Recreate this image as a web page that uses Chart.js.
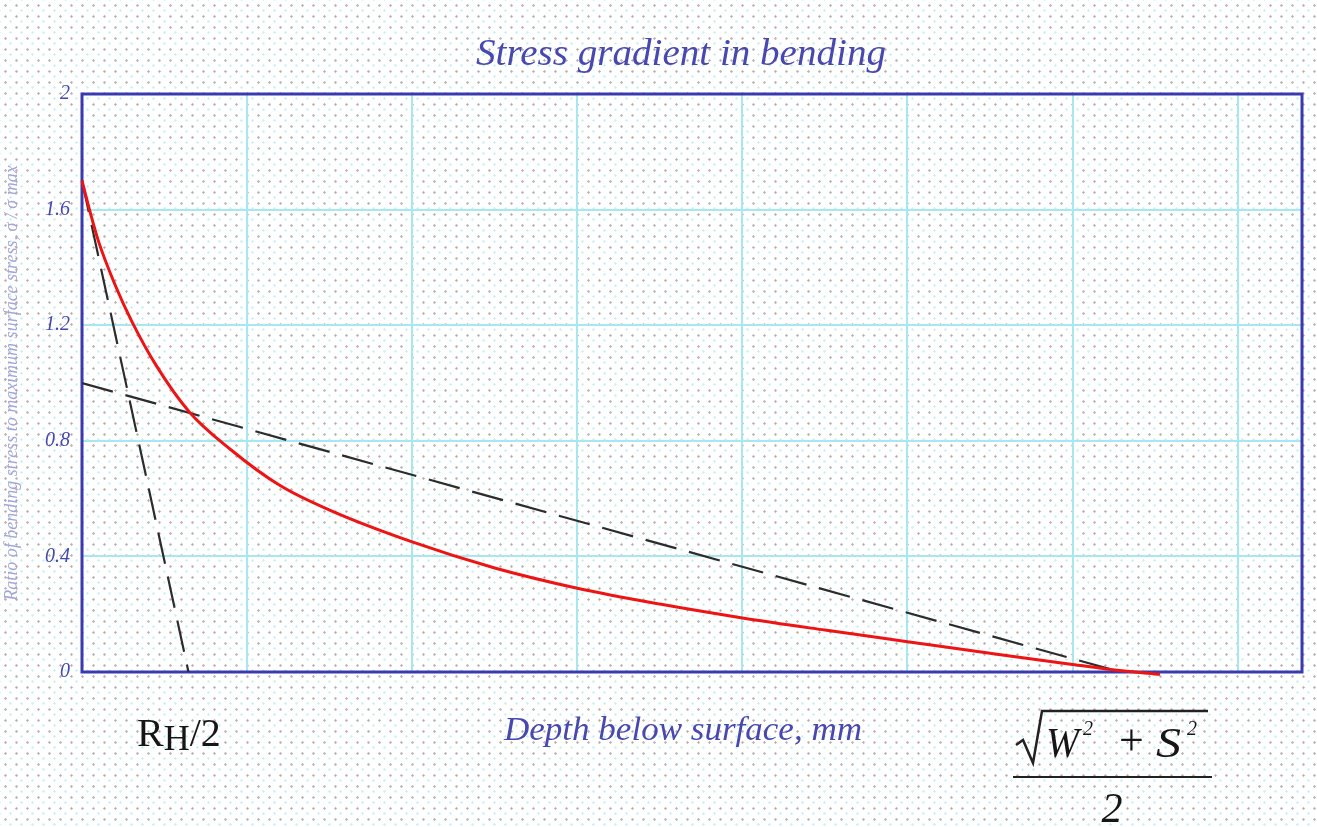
<!DOCTYPE html>
<html>
<head>
<meta charset="utf-8">
<title>Stress gradient in bending</title>
<script src="https://cdn.jsdelivr.net/npm/chart.js@4.4.1/dist/chart.umd.min.js"></script>
<style>
html, body { margin: 0; padding: 0; }
body {
    width: 1317px; height: 827px; overflow: hidden; position: relative;
    background-color: #fff;
    background-image: radial-gradient(circle, #b4b4b4 0.9px, transparent 1.5px),
                      radial-gradient(circle, #c4f2f6 0.9px, transparent 1.5px);
    background-size: 11px 11px, 11px 11px;
    background-position: 0 0, 5px 5px;
}
#chart { position: absolute; left: 0; top: 0; }
#labels { position: absolute; left: 0; top: 0; pointer-events: none; }
#labels text { font-family: 'Liberation Serif', 'Times New Roman', serif; }
</style>
</head>
<body>
<canvas id="chart" width="1317" height="827"></canvas>

<svg id="labels" width="1317" height="827">
    <text x="681" y="65" text-anchor="middle" font-style="italic" font-size="38" fill="#4848b0"
          textLength="410" lengthAdjust="spacingAndGlyphs">Stress gradient in bending</text>
    <text x="683" y="740" text-anchor="middle" font-style="italic" font-size="33" fill="#4848b0"
          textLength="358" lengthAdjust="spacingAndGlyphs">Depth below surface, mm</text>

    <text x="137" y="746" font-size="40" fill="#161616">R<tspan font-size="36" dy="4">H</tspan><tspan dy="-4">/2</tspan></text>

    <polyline points="1016,745 1023,740 1033,763 1042,711 1208,711" fill="none" stroke="#222" stroke-width="2.5"/>
    <text x="1046" y="757" font-size="42" font-style="italic" fill="#161616"
          textLength="33" lengthAdjust="spacingAndGlyphs">W</text>
    <text x="1083" y="735" font-size="20" font-style="italic" fill="#161616">2</text>
    <text x="1119" y="755" font-size="44" fill="#161616">+</text>
    <text x="1156" y="757" font-size="42" font-style="italic" fill="#161616"
          textLength="25" lengthAdjust="spacingAndGlyphs">S</text>
    <text x="1187" y="735" font-size="20" font-style="italic" fill="#161616">2</text>
    <line x1="1013" y1="777" x2="1212" y2="777" stroke="#222" stroke-width="2"/>
    <text x="1112" y="822" text-anchor="middle" font-size="42" font-style="italic" fill="#161616">2</text>
</svg>

<script>
// red curve: bending stress below the surface
var redDepth  = [0, 0.05, 0.1, 0.2, 0.3, 0.45, 0.65, 0.9, 1.2, 1.5, 2.0, 2.5, 3.0, 3.5, 4.0, 4.5, 5.0, 5.5, 6.0, 6.3, 6.53];
var redStress = [1.70, 1.59, 1.49, 1.34, 1.215, 1.06, 0.90, 0.77, 0.645, 0.56, 0.45, 0.36, 0.29, 0.235, 0.187, 0.145, 0.105, 0.065, 0.026, 0.004, -0.008];

// dashed tangent lines
var steepDepth    = [0, 0.645];
var steepStress   = [1.70, 0];
var shallowDepth  = [0, 6.29];
var shallowStress = [1.0, 0];

var yTicks = [0, 0.4, 0.8, 1.2, 1.6, 2];

var blue = '#4848b0';
var gridCyan = '#a6e8f2';
var serif = "'Liberation Serif', 'Times New Roman', serif";

function points(xs, ys) {
    return xs.map(function (x, i) { return { x: x, y: ys[i] }; });
}

var frame = {
    id: 'frame',
    beforeDatasetsDraw: function (chart) {
        var a = chart.chartArea, c = chart.ctx;
        c.save();
        c.strokeStyle = '#3a3aae';
        c.lineWidth = 3;
        c.strokeRect(a.left, a.top, a.right - a.left, a.bottom - a.top);
        c.restore();
    }
};

var ctx = document.getElementById('chart').getContext('2d');
var stressChart = new Chart(ctx, {
    type: 'line',
    data: {
        datasets: [{
            data: points(redDepth, redStress),
            borderColor: '#ee1414',
            borderWidth: 3,
            pointRadius: 0,
            cubicInterpolationMode: 'monotone',
            clip: 6
        }, {
            data: points(steepDepth, steepStress),
            borderColor: '#2c2c2c',
            borderWidth: 2.2,
            borderDash: [32, 13],
            pointRadius: 0
        }, {
            data: points(shallowDepth, shallowStress),
            borderColor: '#2c2c2c',
            borderWidth: 2.2,
            borderDash: [32, 13],
            pointRadius: 0
        }]
    },
    options: {
        responsive: false,
        animation: false,
        layout: { padding: { left: 0, right: 15, top: 94, bottom: 0 } },
        plugins: {
            legend: { display: false },
            tooltip: { enabled: false }
        },
        scales: {
            x: {
                type: 'linear',
                min: 0,
                max: 7.39,
                ticks: { display: false, stepSize: 1, includeBounds: false },
                grid: { color: gridCyan, lineWidth: 2, drawTicks: false },
                border: { display: false },
                afterFit: function (scale) { scale.height = 155; }
            },
            y: {
                min: 0,
                max: 2,
                afterBuildTicks: function (scale) {
                    scale.ticks = yTicks.map(function (v) { return { value: v }; });
                },
                ticks: {
                    color: blue,
                    padding: 12,
                    font: { family: serif, style: 'italic', size: 20 },
                    callback: function (v) { return String(+v.toFixed(1)); }
                },
                grid: { color: gridCyan, lineWidth: 2, drawTicks: false },
                border: { display: false },
                title: {
                    display: true,
                    text: 'Ratio of bending stress to maximum surface stress, \u03c3 / \u03c3 max',
                    color: '#a4a4d8',
                    font: { family: serif, style: 'italic', size: 18 },
                    padding: { top: 1, bottom: 0 }
                },
                afterFit: function (scale) { scale.width = 82; }
            }
        }
    },
    plugins: [frame]
});
</script>
</body>
</html>
